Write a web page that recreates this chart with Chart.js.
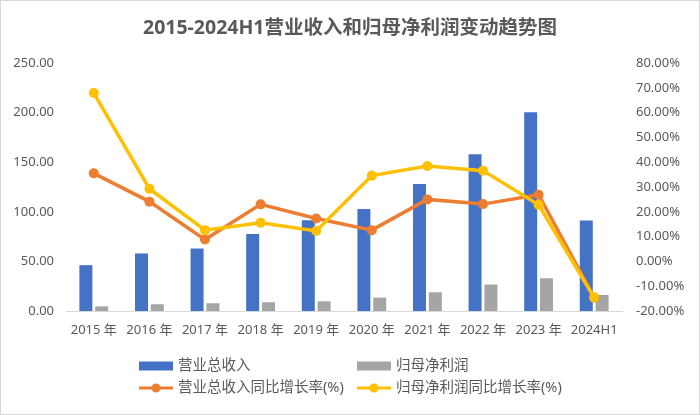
<!DOCTYPE html>
<html>
<head>
<meta charset="utf-8">
<script src="https://cdn.jsdelivr.net/npm/chart.js@4.4.0/dist/chart.umd.min.js"></script>
<style>
  html, body { margin: 0; padding: 0; background: #fff; }
  #wrap { width: 700px; height: 415px; position: relative; }
</style>
</head>
<body>
<div id="wrap"><canvas id="myChart" width="700" height="415"></canvas></div>
<script>
// chart values
let categories = ["2015 年", "2016 年", "2017 年", "2018 年", "2019 年", "2020 年", "2021 年", "2022 年", "2023 年", "2024H1"];
let revenue = [46.2, 58.0, 63.0, 77.5, 91.6, 102.7, 128.0, 158.0, 200.4, 91.3];
let netProfit = [4.7, 6.8, 7.8, 8.8, 9.8, 13.5, 18.9, 26.7, 33.0, 16.2];
let revenueGrowth = [35.5, 24.1, 8.8, 23.0, 17.3, 12.6, 25.0, 23.1, 26.9, -14.6];
let profitGrowth = [67.9, 29.3, 12.6, 15.6, 12.3, 34.6, 38.5, 36.6, 22.8, -14.6];
let leftTicks = [0, 50, 100, 150, 200, 250];
let rightTicks = [-20, -10, 0, 10, 20, 30, 40, 50, 60, 70, 80];

const titleText = "2015-2024H1营业收入和归母净利润变动趋势图";
const fontFamily = '"Noto Sans", "Noto Sans CJK SC", sans-serif';
const textColor = "#595959";

// white background, border and title
const framePlugin = {
  id: "frame",
  beforeDraw(chart) {
    let ctx = chart.ctx;
    ctx.save();
    ctx.fillStyle = "#ffffff";
    ctx.fillRect(0, 0, chart.width, chart.height);
    ctx.strokeStyle = "#D9D9D9";
    ctx.lineWidth = 1;
    ctx.strokeRect(0.5, 0.5, chart.width - 1, chart.height - 1);
    ctx.fillStyle = textColor;
    ctx.font = "bold 19.5px " + fontFamily;
    ctx.textAlign = "center";
    ctx.textBaseline = "middle";
    ctx.fillText(titleText, chart.width / 2, 28);
    ctx.restore();
  }
};

// legend in two rows, two columns, like the original
const gridLegend = {
  id: "gridLegend",
  afterDraw(chart) {
    let ctx = chart.ctx;
    let cols = [139, 357];
    let rows = [366, 388];
    let slots = [
      { ds: 2, col: 0, row: 0 },
      { ds: 3, col: 1, row: 0 },
      { ds: 1, col: 0, row: 1 },
      { ds: 0, col: 1, row: 1 }
    ];
    ctx.save();
    ctx.font = "14.5px " + fontFamily;
    ctx.textBaseline = "middle";
    ctx.textAlign = "left";
    slots.forEach(s => {
      let ds = chart.data.datasets[s.ds];
      let x = cols[s.col];
      let y = rows[s.row];
      if (ds.type === "bar") {
        ctx.fillStyle = ds.backgroundColor;
        ctx.fillRect(x, y - 4.5, 34, 9);
      } else {
        ctx.strokeStyle = ds.borderColor;
        ctx.lineWidth = 3;
        ctx.beginPath();
        ctx.moveTo(x, y);
        ctx.lineTo(x + 34, y);
        ctx.stroke();
        ctx.fillStyle = ds.borderColor;
        ctx.beginPath();
        ctx.arc(x + 17, y, 4.5, 0, Math.PI * 2);
        ctx.fill();
      }
      ctx.fillStyle = textColor;
      ctx.fillText(ds.label, x + 39, y);
    });
    ctx.restore();
  }
};

let ctx = document.getElementById("myChart").getContext("2d");
let chart = new Chart(ctx, {
  type: "bar",
  data: {
    labels: categories,
    datasets: [
      {
        type: "line",
        label: "归母净利润同比增长率(%)",
        data: profitGrowth,
        yAxisID: "y1",
        borderColor: "#FFC000",
        backgroundColor: "#FFC000",
        borderWidth: 3.5,
        pointRadius: 5,
        pointBorderWidth: 0,
        tension: 0,
        order: 0
      },
      {
        type: "line",
        label: "营业总收入同比增长率(%)",
        data: revenueGrowth,
        yAxisID: "y1",
        borderColor: "#ED7D31",
        backgroundColor: "#ED7D31",
        borderWidth: 3.5,
        pointRadius: 5,
        pointBorderWidth: 0,
        tension: 0,
        order: 1
      },
      {
        type: "bar",
        label: "营业总收入",
        data: revenue,
        yAxisID: "y",
        backgroundColor: "#4472C4",
        categoryPercentage: 0.57,
        barPercentage: 0.82,
        order: 2
      },
      {
        type: "bar",
        label: "归母净利润",
        data: netProfit,
        yAxisID: "y",
        backgroundColor: "#A5A5A5",
        categoryPercentage: 0.57,
        barPercentage: 0.82,
        order: 3
      }
    ]
  },
  options: {
    responsive: false,
    animation: false,
    layout: { padding: { top: 63, bottom: 74, left: 0, right: 0 } },
    plugins: {
      legend: { display: false },
      title: { display: false },
      tooltip: { enabled: false }
    },
    scales: {
      x: {
        grid: { display: false, drawTicks: false },
        border: { display: true, color: "#D9D9D9", width: 1 },
        ticks: { color: textColor, font: { family: fontFamily, size: 13 }, padding: 11, maxRotation: 0 },
        afterFit(scale) { scale.height = 30; }
      },
      y: {
        position: "left",
        min: 0,
        max: 250,
        afterBuildTicks(scale) { scale.ticks = leftTicks.map(v => ({ value: v })); },
        grid: { display: false, drawTicks: false },
        border: { display: false },
        ticks: {
          color: textColor,
          font: { family: fontFamily, size: 13 },
          padding: 12,
          callback: v => v.toFixed(2)
        },
        afterFit(scale) { scale.width = 66; }
      },
      y1: {
        position: "right",
        min: -20,
        max: 80,
        afterBuildTicks(scale) { scale.ticks = rightTicks.map(v => ({ value: v })); },
        grid: { display: false, drawTicks: false },
        border: { display: false },
        ticks: {
          color: textColor,
          font: { family: fontFamily, size: 13 },
          padding: 14,
          callback: v => v.toFixed(2) + "%"
        },
        afterFit(scale) { scale.width = 78; }
      }
    }
  },
  plugins: [framePlugin, gridLegend]
});
</script>
</body>
</html>
